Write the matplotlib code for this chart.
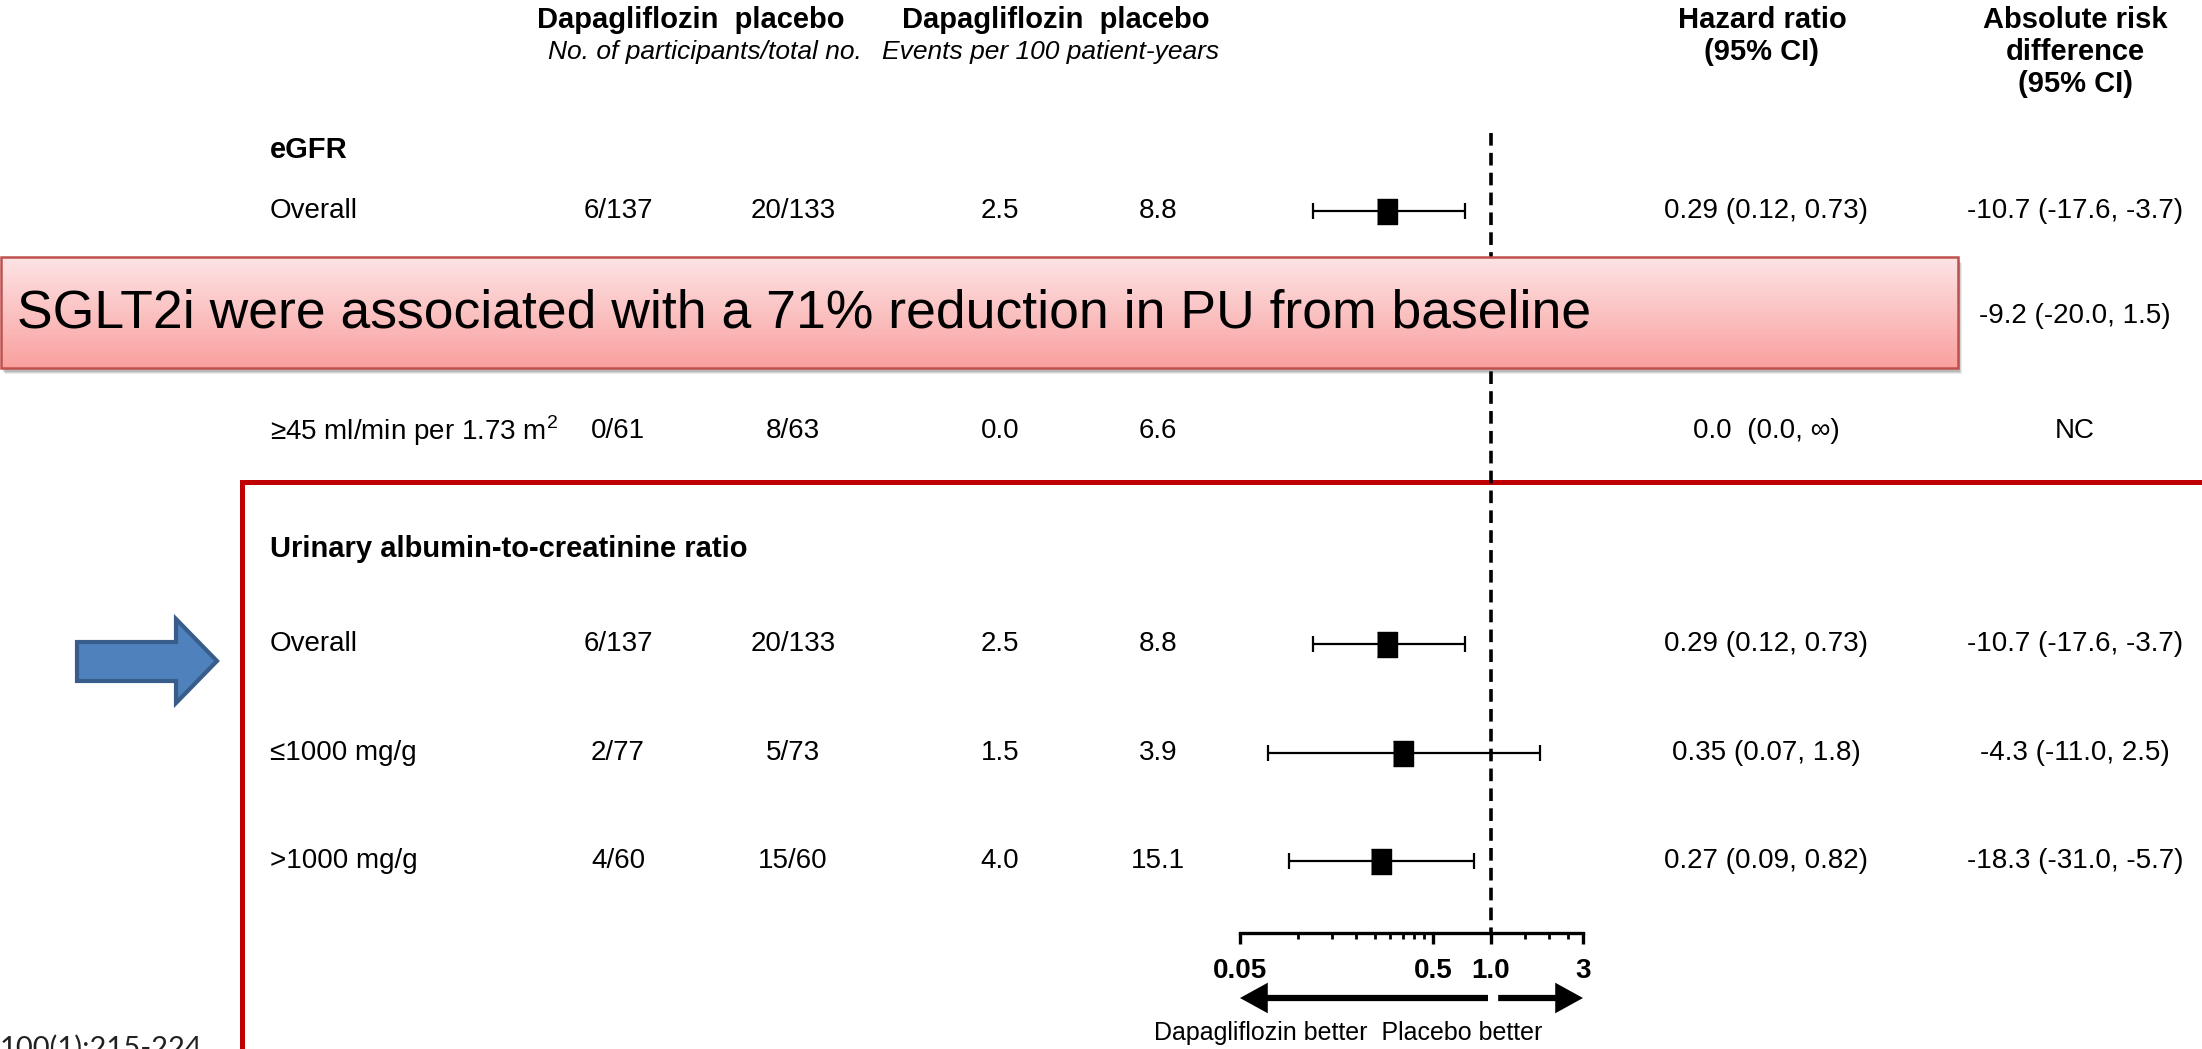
import numpy as np
import matplotlib
matplotlib.use('Agg')
import matplotlib.pyplot as plt
from matplotlib import font_manager
from matplotlib.patches import Rectangle, Polygon
from matplotlib.colors import LinearSegmentedColormap
from matplotlib.ticker import NullFormatter

plt.rcParams['font.family'] = ['Liberation Sans', 'DejaVu Sans']
plt.rcParams['mathtext.fontset'] = 'custom'
plt.rcParams['mathtext.rm'] = 'Liberation Sans'

# condensed look of the original table, if the narrow face is there
installed = {f.name for f in font_manager.fontManager.ttflist}
if 'Liberation Sans Narrow' in installed:
    tfam = ['Liberation Sans Narrow', 'Liberation Sans', 'DejaVu Sans']
    grow = 1.17
else:
    tfam = ['Liberation Sans', 'DejaVu Sans']
    grow = 1.0

# ---- data (eGFR block, then UACR block) ----
sections = ['eGFR', 'Urinary albumin-to-creatinine ratio']
row_labels = ['Overall', r'≥45 ml/min per 1.73 m$^2$', 'Overall', '≤1000 mg/g', '>1000 mg/g']
dapa_n = ['6/137', '0/61', '6/137', '2/77', '4/60']
plac_n = ['20/133', '8/63', '20/133', '5/73', '15/60']
dapa_rate = [2.5, 0.0, 2.5, 1.5, 4.0]
plac_rate = [8.8, 6.6, 8.8, 3.9, 15.1]
hr = [0.29, 0.0, 0.29, 0.35, 0.27]
hr_lo = [0.12, 0.0, 0.12, 0.07, 0.09]
hr_hi = [0.73, np.inf, 0.73, 1.8, 0.82]
hr_text = ['0.29 (0.12, 0.73)', '0.0  (0.0, ∞)', '0.29 (0.12, 0.73)',
           '0.35 (0.07, 1.8)', '0.27 (0.09, 0.82)']
ard_text = ['-10.7 (-17.6, -3.7)', 'NC', '-10.7 (-17.6, -3.7)',
            '-4.3 (-11.0, 2.5)', '-18.3 (-31.0, -5.7)']
hidden_ard = '-9.2 (-20.0, 1.5)'   # row that sits under the banner

axis_ticks = [0.05, 0.5, 1.0, 3]
axis_labels = ['0.05', '0.5', '1.0', '3']
minor_ticks = [0.1, 0.15, 0.2, 0.25, 0.3, 0.35, 0.4, 0.45, 1.5, 2.0, 2.5]

banner = 'SGLT2i were associated with a 71% reduction in PU from baseline'
citation = '100(1):215-224'

# ---- layout (pixels) ----
W, H = 2202, 1049
row_y = [211, 431, 644, 753, 861]
section_y = [150, 549]
hidden_y = 316
x_lab, x_c1, x_c2, x_c3, x_c4, x_hr, x_ard = 270, 618, 793, 1000, 1158, 1766, 2075
fs = 20 * grow
fb = 21 * grow

fig = plt.figure(figsize=(W / 100, H / 100), dpi=100)

bg = fig.add_axes([0, 0, 1, 1])
bg.set_xlim(0, W)
bg.set_ylim(H, 0)
bg.axis('off')

# headers
hb = dict(fontsize=fb, fontweight='bold', family=tfam, ha='center', va='center')
hi = dict(fontsize=19 * grow, style='italic', family=tfam, ha='center', va='center')
bg.text(691, 20, 'Dapagliflozin  placebo', **hb)
bg.text(1056, 20, 'Dapagliflozin  placebo', **hb)
bg.text(705, 52, 'No. of participants/total no.', **hi)
bg.text(1051, 52, 'Events per 100 patient-years', **hi)
bg.text(1762, 20, 'Hazard ratio', **hb)
bg.text(1762, 52, '(95% CI)', **hb)
bg.text(2075, 20, 'Absolute risk', **hb)
bg.text(2075, 52, 'difference', **hb)
bg.text(2075, 84, '(95% CI)', **hb)

for name, y in zip(sections, section_y):
    bg.text(x_lab, y, name, fontsize=fb, fontweight='bold', family=tfam, va='center')

tc = dict(fontsize=fs, family=tfam, ha='center', va='center')
for i, y in enumerate(row_y):
    bg.text(x_lab, y, row_labels[i], fontsize=fs, family=tfam, va='center')
    bg.text(x_c1, y, dapa_n[i], **tc)
    bg.text(x_c2, y, plac_n[i], **tc)
    bg.text(x_c3, y, f'{dapa_rate[i]:.1f}', **tc)
    bg.text(x_c4, y, f'{plac_rate[i]:.1f}', **tc)
    bg.text(x_hr, y, hr_text[i], **tc)
    bg.text(x_ard, y, ard_text[i], **tc)
bg.text(x_ard, hidden_y, hidden_ard, **tc)

# red frame around the UACR block
bg.plot([242, W], [482, 482], color='#c00000', lw=3.6, solid_capstyle='projecting')
bg.plot([242, 242], [482, H], color='#c00000', lw=3.6, solid_capstyle='projecting')

# blue block arrow
bx0, bx1, tip = 77, 176, 217
by0, by1, hy0, hy1 = 642, 681, 619, 703
bg.add_patch(Polygon([(bx0, by0), (bx1, by0), (bx1, hy0), (tip, (hy0 + hy1) / 2),
                      (bx1, hy1), (bx1, by1), (bx0, by1)],
                     closed=True, fc='#4f81bd', ec='#385d8a', lw=3))

bg.text(1348, 1033, 'Dapagliflozin better  Placebo better', fontsize=18 * grow, family=tfam,
        ha='center', va='center')
bg.text(0, 1057, citation, fontsize=21, family=['Lato', 'DejaVu Sans'], color='#222222',
        ha='left', va='baseline')

# ---- forest plot on log scale ----
fx0, fx1 = 1240, 1583
fax = fig.add_axes([fx0 / W, 0, (fx1 - fx0) / W, 1])
fax.set_xscale('log')
fax.set_xlim(0.05, 3)
fax.set_ylim(H, 0)
fax.patch.set_visible(False)
for s in ['top', 'left', 'right']:
    fax.spines[s].set_visible(False)
fax.spines['bottom'].set_position(('data', 933))
fax.spines['bottom'].set_linewidth(2.4)
fax.set_yticks([])
fax.set_xticks(axis_ticks, axis_labels)
fax.set_xticks(minor_ticks, minor=True)
fax.xaxis.set_minor_formatter(NullFormatter())
fax.tick_params(which='major', length=8, width=2.4, labelsize=20, pad=10)
fax.tick_params(which='minor', length=4, width=2)
for lab in fax.get_xticklabels():
    lab.set_fontweight('bold')

fax.plot([1, 1], [133, 933], color='black', lw=2.6, ls=(0, (3.5, 2.0)))

box = [(-0.4, -0.5), (0.4, -0.5), (0.4, 0.5), (-0.4, 0.5)]
for i, y in enumerate(row_y):
    if hr[i] > 0 and np.isfinite(hr_hi[i]):
        fax.errorbar([hr[i]], [y], xerr=[[hr[i] - hr_lo[i]], [hr_hi[i] - hr[i]]],
                     fmt='none', ecolor='black', elinewidth=1.6, capsize=6, capthick=1.6)
        fax.plot([hr[i]], [y], marker=box, ms=18, color='black', ls='none')

arr = 'simple,head_length=2.0,head_width=2.2,tail_width=0.45'
fax.annotate('', xy=(0.05, 998), xytext=(0.965, 998),
             arrowprops=dict(arrowstyle=arr, mutation_scale=10, fc='black', lw=0,
                             shrinkA=0, shrinkB=0))
fax.annotate('', xy=(3, 998), xytext=(1.09, 998),
             arrowprops=dict(arrowstyle=arr, mutation_scale=10, fc='black', lw=0,
                             shrinkA=0, shrinkB=0))

# ---- banner overlay ----
ov = fig.add_axes([0, 0, 1, 1], zorder=5)
ov.axis('off')
ov.patch.set_visible(False)
r0, r1, t0, t1 = 1, 1958, 257, 368
for k, a in enumerate([0.12, 0.1, 0.08]):
    ov.add_patch(Rectangle((r0 + 2 + k, t0 + 4 + k), r1 - r0, t1 - t0, fc='black', alpha=a, lw=0))
cmap = LinearSegmentedColormap.from_list('pinkgrad', ['#fde4e5', '#fbc2c2', '#f9a09e'])
ov.imshow(np.linspace(0, 1, 256).reshape(-1, 1), cmap=cmap, extent=(r0, r1, t1, t0),
          aspect='auto', origin='upper', zorder=2)
ov.add_patch(Rectangle((r0, t0), r1 - r0, t1 - t0, fill=False, ec='#c0504d', lw=1.8, zorder=3))
ov.set_xlim(0, W)
ov.set_ylim(H, 0)
ov.text(17, 314, banner, fontsize=38.5, ha='left', va='center', zorder=4)

fig.savefig('out.png', dpi=100)
